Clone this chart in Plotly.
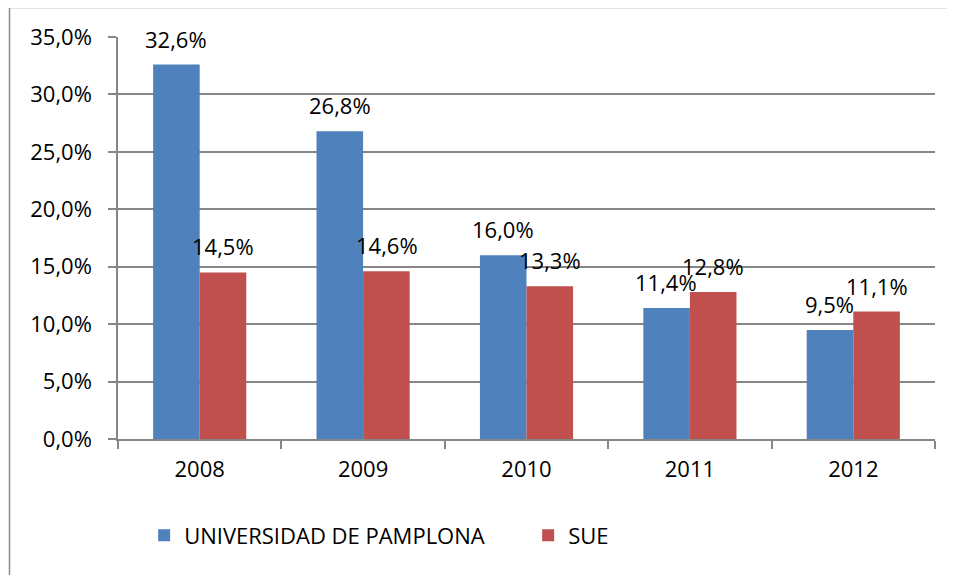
import plotly.graph_objects as go

years = ["2008", "2009", "2010", "2011", "2012"]
unipamplona = [0.326, 0.268, 0.160, 0.114, 0.095]
sue = [0.145, 0.146, 0.133, 0.128, 0.111]
series_names = ["UNIVERSIDAD DE PAMPLONA", "SUE"]
colors = ["#4F81BD", "#C0504D"]
legend_ids = ["legend", "legend2"]

FONT = "Open Sans"
FS = 22
fig = go.Figure()
for name, vals, col, lg in zip(series_names, [unipamplona, sue], colors, legend_ids):
    fig.add_trace(go.Bar(x=years, y=vals, name=name, legend=lg,
                         marker=dict(color=col, line=dict(width=0))))

# data labels above bars (x given as category index)
for vals, shift in [(unipamplona, -23.5), (sue, 23.5)]:
    for i, v in enumerate(vals):
        fig.add_annotation(x=i, y=v, text=f"{v*100:.1f}%".replace(".", ","),
                           showarrow=False, xshift=shift, yshift=26,
                           yanchor="middle", font=dict(family=FONT, size=FS, color="black"))

# chart border
fig.add_shape(type="rect", xref="paper", yref="paper",
              x0=-0.1328, y0=-0.4, x1=1.2, y1=1.0734,
              line=dict(color="#8A8A8A", width=1.5), fillcolor="rgba(0,0,0,0)", layer="below")

leg_common = dict(orientation="h", xanchor="left", yanchor="middle",
                  font=dict(family=FONT, size=FS), itemwidth=30,
                  bgcolor="rgba(0,0,0,0)")

fig.update_layout(
    width=947, height=567,
    margin=dict(l=110, r=20, t=29, b=136, autoexpand=False),
    paper_bgcolor="white", plot_bgcolor="white",
    separators=",.",
    barmode="group", bargap=0.43, bargroupgap=0,
    font=dict(family=FONT, size=FS, color="black"),
    showlegend=True,
    legend=dict(x=0.032, y=-0.24, **leg_common),
    legend2=dict(x=0.502, y=-0.24, **leg_common),
    xaxis=dict(type="category", range=[-0.5, len(years) - 0.5], showline=True,
               linecolor="#868686", linewidth=1.5,
               ticks="outside", ticklen=8, tickcolor="#868686", tickwidth=1.5,
               tickson="boundaries", showgrid=False, ticklabelstandoff=10,
               tickfont=dict(family=FONT, size=FS)),
    yaxis=dict(range=[0, 0.35], dtick=0.05, tickformat=".1%",
               showline=True, linecolor="#868686", linewidth=1.5,
               ticks="outside", ticklen=8, tickcolor="#868686", tickwidth=1.5,
               showgrid=True, gridcolor="#868686", gridwidth=1.5, ticklabelstandoff=12,
               zeroline=False, tickfont=dict(family=FONT, size=FS)),
)
fig.write_html("out.html")
